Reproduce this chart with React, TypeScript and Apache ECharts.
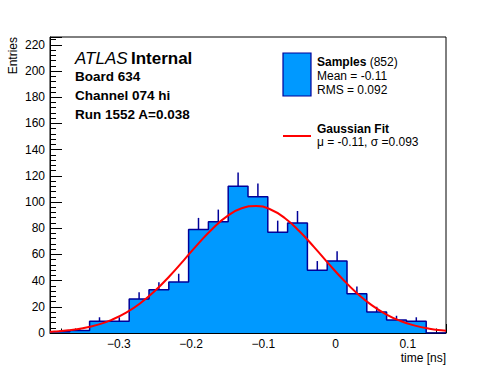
import React, { useEffect, useRef } from "react";
import * as echarts from "echarts";

// Histogram definition (20 bins)
const histMin = -0.3955;
const histMax = 0.153;
const counts = [1, 2, 9, 9, 26, 33, 39, 79, 85, 112, 104, 77, 84, 48, 55, 30, 16, 10, 9, 0];

// Gaussian fit curve
const fitX = [-0.3955, -0.39, -0.37, -0.35, -0.33, -0.31, -0.29, -0.27, -0.25, -0.23, -0.21, -0.19, -0.17, -0.15, -0.13, -0.11, -0.09, -0.07, -0.05, -0.03, -0.01, 0.01, 0.03, 0.05, 0.07, 0.09, 0.11, 0.13, 0.15, 0.153];
const fitY = [0.93, 1.11, 2.07, 3.67, 6.22, 10.06, 15.54, 22.91, 32.26, 43.37, 55.68, 68.24, 79.86, 89.23, 95.2, 96.98, 94.32, 87.6, 77.67, 65.76, 53.16, 41.03, 30.24, 21.27, 14.3, 9.17, 5.62, 3.28, 1.83, 1.67];

const yMax = 226;

const FONT = "'Liberation Sans', Arial, Helvetica, sans-serif";
const FILL = "#0099ff";
const NAVY = "#000099";
const RED = "#ff0000";

export default function App() {
  const ref = useRef<HTMLDivElement>(null);

  useEffect(() => {
    if (!ref.current) return;
    const chart = echarts.init(ref.current, undefined, { renderer: "svg" });
    const n = counts.length;
    const w = (histMax - histMin) / n;
    const stepData: number[][] = [];
    for (let i = 0; i < n; i++) stepData.push([histMin + i * w, counts[i]]);
    stepData.push([histMax, counts[n - 1]]);
    const errData = counts.map((c, i) => [histMin + (i + 0.5) * w, c]);
    const fitData = fitX.map((x, i) => [x, fitY[i]]);

    chart.setOption({
      animation: false,
      textStyle: { fontFamily: FONT },
      grid: {
        left: 50,
        right: 50,
        top: 37,
        bottom: 39,
        show: true,
        borderColor: "#000",
        borderWidth: 1,
        backgroundColor: "transparent",
      },
      xAxis: {
        type: "value",
        min: histMin,
        max: histMax,
        splitNumber: 5,
        axisLine: { show: true, onZero: false, lineStyle: { color: "#000", width: 1 } },
        axisTick: { show: true, inside: true, length: 9, lineStyle: { color: "#000" } },
        minorTick: { show: true, splitNumber: 5, length: 4.5, lineStyle: { color: "#000" } },
        splitLine: { show: false },
        axisLabel: {
          color: "#000",
          fontSize: 12,
          fontFamily: FONT,
          margin: 5,
          showMinLabel: false,
          showMaxLabel: false,
          formatter: (v: number) => {
            const s = String(Math.round(v * 1000) / 1000);
            return s.replace("-", "\u2212");
          },
        },
      },
      yAxis: {
        type: "value",
        min: 0,
        max: yMax,
        interval: 20,
        axisLine: { show: true, onZero: false, lineStyle: { color: "#000", width: 1 } },
        axisTick: { show: true, inside: true, length: 12, lineStyle: { color: "#000" } },
        minorTick: { show: true, splitNumber: 5, length: 6, lineStyle: { color: "#000" } },
        splitLine: { show: false },
        axisLabel: {
          color: "#000",
          fontSize: 12,
          fontFamily: FONT,
          margin: 5,
          showMaxLabel: false,
        },
      },
      series: [
        {
          type: "line",
          data: stepData,
          step: "end",
          symbol: "none",
          lineStyle: { color: NAVY, width: 1.5 },
          areaStyle: { color: FILL, opacity: 1 },
          z: 2,
        },
        {
          type: "custom",
          data: errData,
          z: 3,
          renderItem: (params: any, api: any) => {
            const x = api.value(0);
            const c = api.value(1);
            if (c <= 0) return null;
            const p0 = api.coord([x, c]);
            const p1 = api.coord([x, c + Math.sqrt(c)]);
            return {
              type: "line",
              shape: { x1: p0[0], y1: p0[1], x2: p1[0], y2: p1[1] },
              style: { stroke: NAVY, lineWidth: 1.5 },
            };
          },
        },
        {
          type: "line",
          data: fitData,
          smooth: true,
          symbol: "none",
          lineStyle: { color: RED, width: 2 },
          z: 4,
        },
      ],
      graphic: [
        {
          type: "text",
          x: 75,
          y: 58,
          style: {
            text: "{a|ATLAS} {b|Internal}",
            verticalAlign: "middle",
            rich: {
              a: { fontStyle: "italic", fontSize: 17, fontFamily: FONT, fill: "#000" },
              b: { fontWeight: "bold", fontSize: 17, fontFamily: FONT, fill: "#000" },
            },
          },
        },
        {
          type: "text",
          x: 75,
          y: 76,
          style: { text: "Board 634", fontWeight: "bold", fontSize: 13.5, fontFamily: FONT, fill: "#000", verticalAlign: "middle" },
        },
        {
          type: "text",
          x: 75,
          y: 95.5,
          style: { text: "Channel 074 hi", fontWeight: "bold", fontSize: 13.5, fontFamily: FONT, fill: "#000", verticalAlign: "middle" },
        },
        {
          type: "text",
          x: 75,
          y: 114.5,
          style: { text: "Run 1552 A=0.038", fontWeight: "bold", fontSize: 13.5, fontFamily: FONT, fill: "#000", verticalAlign: "middle" },
        },
        {
          type: "rect",
          shape: { x: 283, y: 53, width: 28, height: 43 },
          style: { fill: FILL, stroke: NAVY, lineWidth: 1.2 },
        },
        {
          type: "text",
          x: 317,
          y: 61.5,
          style: {
            text: "{b|Samples}{n| (852)}",
            verticalAlign: "middle",
            rich: {
              b: { fontWeight: "bold", fontSize: 12, fontFamily: FONT, fill: "#000" },
              n: { fontSize: 12, fontFamily: FONT, fill: "#000" },
            },
          },
        },
        {
          type: "text",
          x: 317,
          y: 76,
          style: { text: "Mean = -0.11", fontSize: 12, fontFamily: FONT, fill: "#000", verticalAlign: "middle" },
        },
        {
          type: "text",
          x: 317,
          y: 90,
          style: { text: "RMS = 0.092", fontSize: 12, fontFamily: FONT, fill: "#000", verticalAlign: "middle" },
        },
        {
          type: "line",
          shape: { x1: 283, y1: 136, x2: 311, y2: 136 },
          style: { stroke: RED, lineWidth: 2 },
        },
        {
          type: "text",
          x: 317,
          y: 129,
          style: { text: "Gaussian Fit", fontWeight: "bold", fontSize: 12, fontFamily: FONT, fill: "#000", verticalAlign: "middle" },
        },
        {
          type: "text",
          x: 317,
          y: 141.5,
          style: { text: "\u03bc = -0.11, \u03c3 =0.093", fontSize: 12, fontFamily: FONT, fill: "#000", verticalAlign: "middle" },
        },
        {
          type: "text",
          x: 13,
          y: 37,
          rotation: Math.PI / 2,
          style: { text: "Entries", fontSize: 12, fontFamily: FONT, fill: "#000", align: "right", verticalAlign: "middle" },
        },
        {
          type: "text",
          x: 446,
          y: 358,
          style: { text: "time [ns]", fontSize: 12, fontFamily: FONT, fill: "#000", align: "right", verticalAlign: "middle" },
        },
      ],
    });
    return () => chart.dispose();
  }, []);

  return (
    <div
      ref={ref}
      style={{ position: "fixed", left: 0, top: 0, width: 496, height: 372, background: "#fff" }}
    />
  );
}
